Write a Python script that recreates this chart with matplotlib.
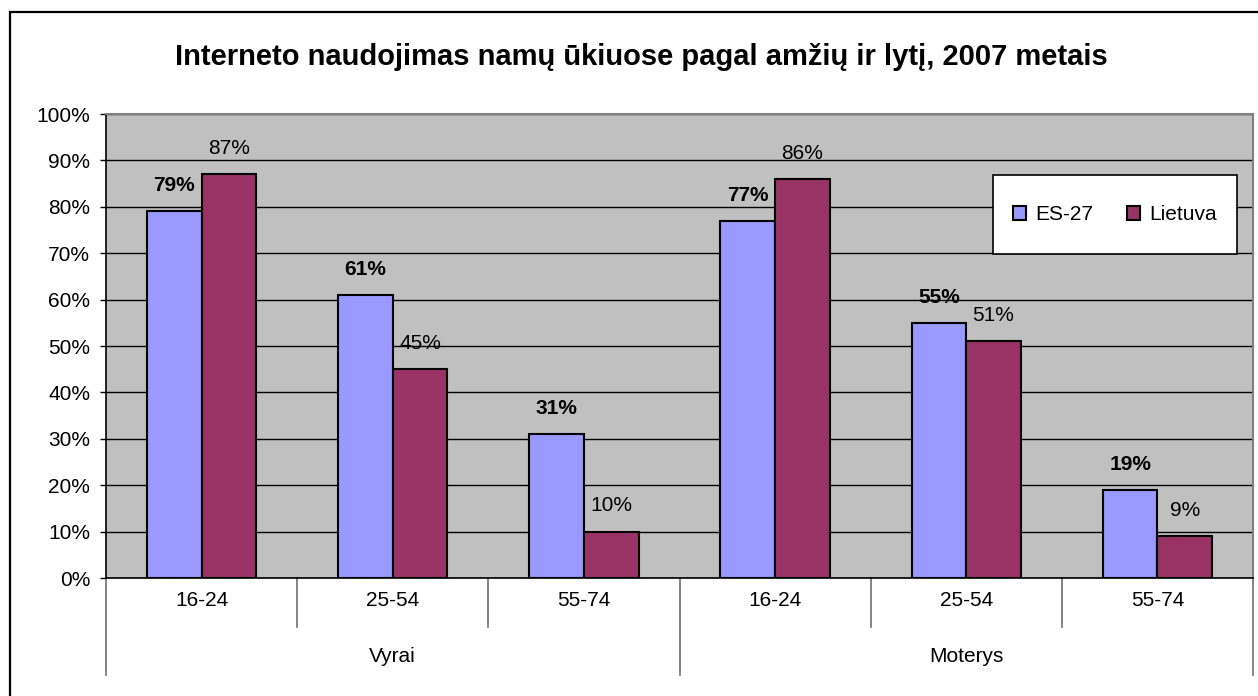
import matplotlib.pyplot as plt
import matplotlib.transforms as mtransforms
from matplotlib.patches import Rectangle
import numpy as np

plt.rcParams['font.family'] = ['Liberation Sans', 'DejaVu Sans']

# Duomenys
title = "Interneto naudojimas namų ūkiuose pagal amžių ir lytį, 2007 metais"
groups = ["Vyrai", "Moterys"]
ages = ["16-24", "25-54", "55-74", "16-24", "25-54", "55-74"]
es27 = [79, 61, 31, 77, 55, 19]
lietuva = [87, 45, 10, 86, 51, 9]
series_names = ["ES-27", "Lietuva"]
yticks = [0, 10, 20, 30, 40, 50, 60, 70, 80, 90, 100]

c_es = "#9999FF"
c_lt = "#993366"
fs = 15

W, H = 1258, 696
fig = plt.figure(figsize=(W / 100, H / 100), dpi=100)
fig.patch.set_facecolor("white")

# plot area in pixels
left, right, top, bottom = 106, 1253, 114, 578
ax = fig.add_axes([left / W, 1 - bottom / H, (right - left) / W, (bottom - top) / H])
ax.set_facecolor("#C0C0C0")

x = np.arange(len(ages))
width = 1 / 3.5

ax.set_axisbelow(True)
ax.yaxis.grid(True, color="black", linewidth=1.0)

b1 = ax.bar(x - width / 2, es27, width, color=c_es, edgecolor="black", linewidth=1.5,
            label=series_names[0], zorder=3)
b2 = ax.bar(x + width / 2, lietuva, width, color=c_lt, edgecolor="black", linewidth=1.5,
            label=series_names[1], zorder=3)

# reiksmes virs stulpeliu
for bar, v in zip(b1, es27):
    ax.annotate(f"{v}%", xy=(bar.get_x() + bar.get_width() / 2, bar.get_height()),
                xytext=(0, 18.5), textcoords="offset points",
                ha="center", va="center", fontsize=fs, fontweight="bold", zorder=5)
for bar, v in zip(b2, lietuva):
    ax.annotate(f"{v}%", xy=(bar.get_x() + bar.get_width() / 2, bar.get_height()),
                xytext=(0, 18.5), textcoords="offset points",
                ha="center", va="center", fontsize=fs, zorder=5)

ax.set_xlim(-0.5, len(ages) - 0.5)
ax.set_ylim(0, 100)
ax.set_yticks(yticks)
ax.set_yticklabels([f"{t}%" for t in yticks], fontsize=fs)
ax.tick_params(axis="y", direction="out", length=4.5, width=1, color="black", pad=7)
ax.set_xticks([])

for s in ["left", "bottom"]:
    ax.spines[s].set_color("black")
    ax.spines[s].set_linewidth(1.2)
for s in ["top", "right"]:
    ax.spines[s].set_color("#808080")
    ax.spines[s].set_linewidth(1.5)

# dvieju lygiu x asis
trans = mtransforms.blended_transform_factory(ax.transData, ax.transAxes)
px = 1 / (bottom - top)
for i in range(1, len(ages)):
    long_line = (i % 3 == 0)
    ln = 97 if long_line else 49
    ax.plot([i - 0.5, i - 0.5], [0, -ln * px], transform=trans, color="#707070",
            linewidth=1.2, clip_on=False)
for xe in [-0.5, len(ages) - 0.5]:
    ax.plot([xe, xe], [0, -97 * px], transform=trans, color="#707070",
            linewidth=1.2, clip_on=False)

for i, a in enumerate(ages):
    ax.text(i, -23 * px, a, transform=trans, ha="center", va="center", fontsize=fs)
for g, name in enumerate(groups):
    ax.text(g * 3 + 1, -79 * px, name, transform=trans, ha="center", va="center", fontsize=fs)

# legenda
lx0 = (993 - left) / (right - left)
lx1 = (1237 - left) / (right - left)
ly0 = (bottom - 254) / (bottom - top)
ly1 = (bottom - 175) / (bottom - top)
ax.add_patch(Rectangle((lx0, ly0), lx1 - lx0, ly1 - ly0, transform=ax.transAxes,
                       facecolor="white", edgecolor="black", linewidth=1.2, zorder=9))
leg = ax.legend(loc="center", bbox_to_anchor=(lx0, ly0, lx1 - lx0, ly1 - ly0), mode="expand",
                ncol=2, fontsize=fs, frameon=False,
                borderpad=0.95, handlelength=0.65, handleheight=0.65, handletextpad=0.45,
                columnspacing=2.0, borderaxespad=0)
leg.set_zorder(10)

# pavadinimas
fig.text(641 / W, 1 - 65 / H, title, ha="center", va="baseline", fontsize=21,
         fontweight="bold")

# remelis
fig.patches.append(Rectangle((10 / W, -0.05), 1.2, 1 - 12 / H + 0.05, transform=fig.transFigure,
                             fill=False, edgecolor="black", linewidth=1.6))

plt.savefig("out.png", dpi=100)
plt.close()
